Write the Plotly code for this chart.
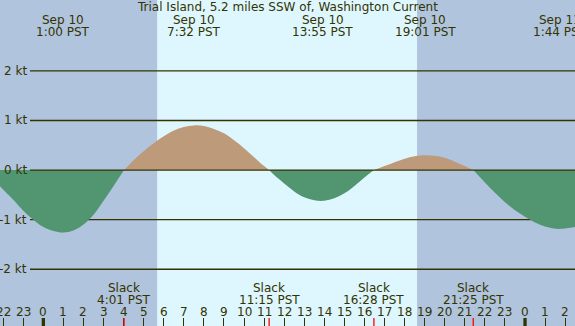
import plotly.graph_objects as go

W, H = 575, 326

# ---- data ----
hours = [-2.9, -2.2, -1.5, -1.0, -0.5, 0.0, 0.5, 1.0, 1.5, 2.0, 2.5, 3.0, 3.5, 4.02,
         4.5, 5.0, 5.5, 6.0, 6.5, 7.0, 7.5, 8.0, 8.5, 9.0, 9.5, 10.0, 10.5, 11.0, 11.25,
         11.5, 12.0, 12.5, 13.0, 13.5, 14.0, 14.5, 15.0, 15.5, 16.0, 16.47,
         17.0, 17.5, 18.0, 18.5, 19.0, 19.5, 20.0, 20.5, 21.0, 21.42,
         22.0, 22.5, 23.0, 23.5, 24.0, 24.5, 25.0, 25.5, 26.0, 26.5, 27.0]
speed_kt = [0, -0.31, -0.6, -0.82, -1.0, -1.15, -1.23, -1.26, -1.22, -1.1, -0.9, -0.62, -0.32, 0,
            0.2, 0.38, 0.54, 0.68, 0.8, 0.87, 0.9, 0.89, 0.83, 0.74, 0.6, 0.44, 0.26, 0.08, 0,
            -0.1, -0.27, -0.43, -0.55, -0.61, -0.62, -0.57, -0.47, -0.32, -0.15, 0,
            0.08, 0.16, 0.23, 0.28, 0.3, 0.29, 0.25, 0.17, 0.08, 0,
            -0.25, -0.46, -0.65, -0.81, -0.94, -1.06, -1.14, -1.185, -1.18, -1.15, -1.1]

extreme_hours = [1.0, 7.53, 13.92, 19.02, 25.73]
extreme_dates = ["Sep 10", "Sep 10", "Sep 10", "Sep 10", "Sep 11"]
extreme_times = ["1:00 PST", "7:32 PST", "13:55 PST", "19:01 PST", "1:44 PST"]

slack_hours = [-2.9, 4.02, 11.25, 16.47, 21.42]
slack_times = ["21:06 PST", "4:01 PST", "11:15 PST", "16:28 PST", "21:25 PST"]

hour_ticks = list(range(-2, 27))
hour_labels = ["22", "23", "0", "1", "2", "3", "4", "5", "6", "7", "8", "9", "10", "11",
               "12", "13", "14", "15", "16", "17", "18", "19", "20", "21", "22", "23",
               "0", "1", "2"]

kt_levels = [2, 1, 0, -1, -2]
kt_labels = ["2 kt", "1 kt", "0 kt", "-1 kt", "-2 kt"]

daylight = [5.67, 18.62]
title = "Trial Island, 5.2 miles SSW of, Washington Current"

# ---- style ----
NIGHT = "#b0c4de"
DAY = "#def7ff"
FLOOD = "#bc9a7a"
EBB = "#519671"
INK = "#333300"
FONT = "DejaVu Sans"
X_RANGE = [-2.16, 26.49]
Y_RANGE = [-3.145, 3.43]


def py(p):
    return 1 - p / H


fig = go.Figure()

# split the curve into arcs between slack points
arcs, cur = [], []
for ti, vi in zip(hours, speed_kt):
    cur.append((ti, vi))
    if vi == 0 and len(cur) > 1:
        arcs.append(cur)
        cur = [(ti, vi)]
if len(cur) > 1:
    arcs.append(cur)

for arc in arcs:
    xs = [a[0] for a in arc]
    ys = [a[1] for a in arc]
    col = FLOOD if sum(ys) > 0 else EBB
    fig.add_trace(go.Scatter(x=xs, y=ys, mode="lines", fill="tozeroy",
                             fillcolor=col, line=dict(width=0, shape="spline", color=col),
                             hoverinfo="skip", showlegend=False))

shapes = []
# daylight band
shapes.append(dict(type="rect", xref="x", yref="paper", x0=daylight[0], x1=daylight[1],
                   y0=0, y1=1, fillcolor=DAY, line=dict(width=0), layer="below"))
# grid lines
for lv in kt_levels:
    shapes.append(dict(type="line", xref="paper", yref="y", x0=30 / W, x1=1, y0=lv, y1=lv,
                       line=dict(color=INK, width=1.3),
                       layer="above" if lv == 0 else "below"))
# midnight ticks (thick)
for h, lab in zip(hour_ticks, hour_labels):
    if lab == "0":
        shapes.append(dict(type="line", xref="x", yref="paper", x0=h, x1=h,
                           y0=0, y1=8 / H, line=dict(color=INK, width=3.3)))
# slack ticks (red)
for h in slack_hours:
    shapes.append(dict(type="line", xref="x", yref="paper", x0=h, x1=h,
                       y0=0, y1=8 / H, line=dict(color="#ff0000", width=1.3)))

ann = []
fnt = dict(family=FONT, size=12, color=INK)
ann.append(dict(text=title, xref="paper", yref="paper", x=0.5, y=py(7.5),
                xanchor="center", yanchor="middle", showarrow=False, font=fnt))
for h, d, t in zip(extreme_hours, extreme_dates, extreme_times):
    ann.append(dict(text=d, xref="x", yref="paper", x=h, y=py(20), xanchor="center",
                    yanchor="middle", showarrow=False, font=fnt))
    ann.append(dict(text=t, xref="x", yref="paper", x=h, y=py(32), xanchor="center",
                    yanchor="middle", showarrow=False, font=fnt))
for h, t in zip(slack_hours, slack_times):
    ann.append(dict(text="Slack", xref="x", yref="paper", x=h, y=py(288), xanchor="center",
                    yanchor="middle", showarrow=False, font=fnt))
    ann.append(dict(text=t, xref="x", yref="paper", x=h, y=py(300), xanchor="center",
                    yanchor="middle", showarrow=False, font=fnt))
for h, lab in zip(hour_ticks, hour_labels):
    ann.append(dict(text=lab, xref="x", yref="paper", x=h, y=py(312), xanchor="center",
                    yanchor="middle", showarrow=False, font=fnt))
for lv, lab in zip(kt_levels, kt_labels):
    ann.append(dict(text=lab, xref="paper", yref="y", x=29 / W, y=lv, xanchor="right",
                    yanchor="middle", showarrow=False, font=fnt))

fig.update_layout(
    width=W, height=H, autosize=False,
    margin=dict(l=0, r=0, t=0, b=0, pad=0),
    paper_bgcolor=NIGHT, plot_bgcolor=NIGHT,
    shapes=shapes, annotations=ann,
    xaxis=dict(range=X_RANGE, showgrid=False, zeroline=False, showline=False,
               tickvals=hour_ticks, ticks="inside", ticklen=8, tickwidth=1,
               tickcolor=INK, showticklabels=False, fixedrange=True),
    yaxis=dict(range=Y_RANGE, showgrid=False, zeroline=False, showline=False,
               showticklabels=False, ticks="", fixedrange=True),
)

fig.write_html("out.html", config={"displayModeBar": False})
